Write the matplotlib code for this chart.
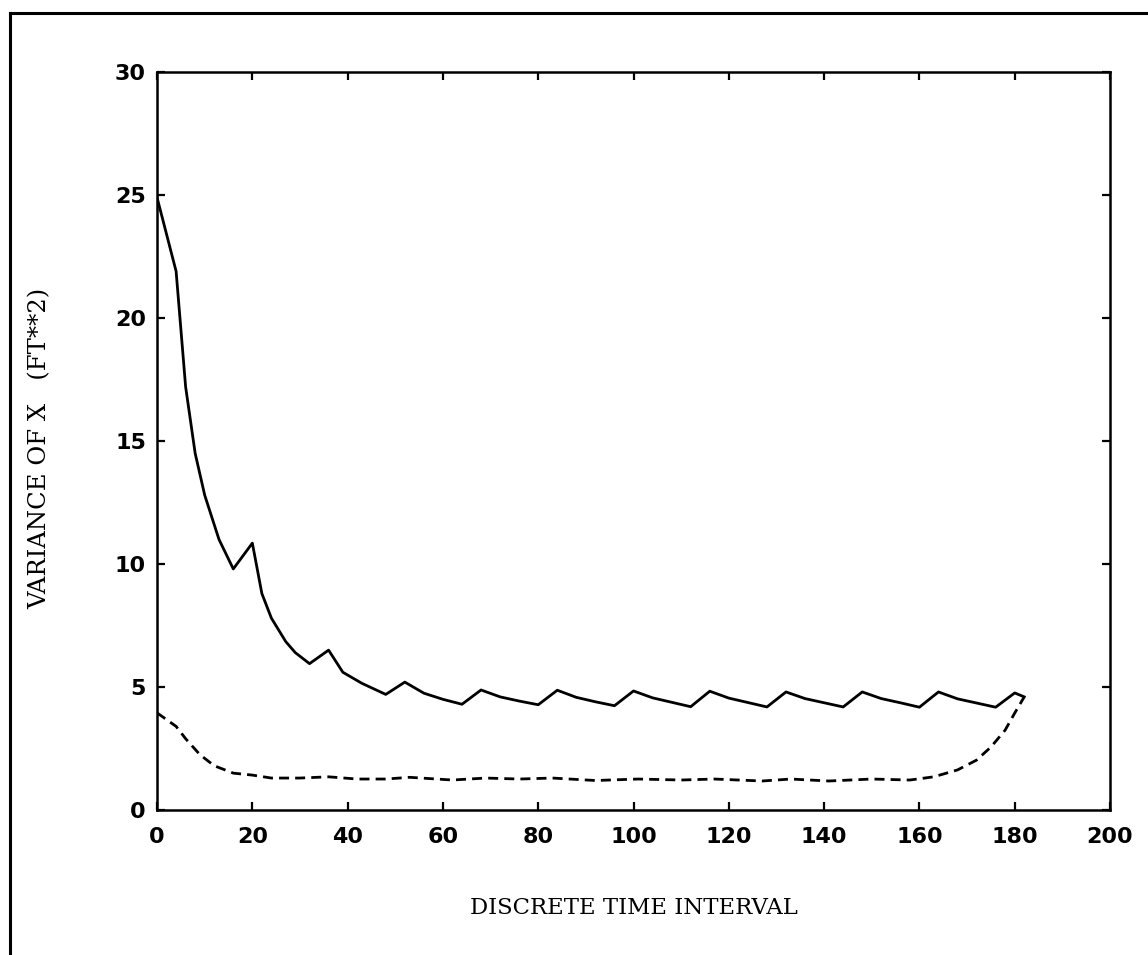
import matplotlib
matplotlib.use("Agg")
import matplotlib.pyplot as plt
from matplotlib.lines import Line2D

# solid curve (variance of x, first filter)
solid_x = [0, 4, 6, 8, 10, 13, 16, 20, 22, 24, 27, 29, 32, 36, 39, 43, 48,
           52, 56, 60, 64, 68, 72, 76, 80, 84, 88, 92, 96, 100, 104, 108, 112,
           116, 120, 124, 128, 132, 136, 140, 144, 148, 152, 156, 160, 164,
           168, 172, 176, 180, 182]
solid_y = [24.9, 21.9, 17.2, 14.5, 12.8, 11.0, 9.8, 10.85, 8.8, 7.8, 6.85,
           6.4, 5.95, 6.5, 5.6, 5.15, 4.7,
           5.2, 4.75, 4.5, 4.3, 4.88, 4.6, 4.43, 4.28, 4.87, 4.58, 4.4, 4.24,
           4.84, 4.56, 4.38, 4.2,
           4.83, 4.55, 4.37, 4.19, 4.8, 4.53, 4.36, 4.19, 4.8, 4.53, 4.36,
           4.18, 4.8,
           4.52, 4.35, 4.18, 4.76, 4.6]

# dashed curve
dashed_x = [0, 4, 6, 9, 12, 16, 20, 24, 30, 36, 42, 48, 53, 62, 69, 76, 83,
            92, 101, 110, 117, 127, 133, 141, 150, 158, 163, 168, 172, 175,
            178, 180, 182]
dashed_y = [3.95, 3.4, 2.9, 2.25, 1.8, 1.5, 1.42, 1.3, 1.3, 1.35, 1.26, 1.26,
            1.33, 1.22, 1.3, 1.26, 1.3, 1.2, 1.26, 1.22, 1.26, 1.18, 1.26,
            1.18, 1.26, 1.22, 1.35, 1.63, 2.03, 2.56, 3.25, 3.94, 4.6]

x_ticks = [0, 20, 40, 60, 80, 100, 120, 140, 160, 180, 200]
y_ticks = [0, 5, 10, 15, 20, 25, 30]

fig = plt.figure(figsize=(11.48, 9.55), dpi=100)
ax = fig.add_axes([0.1368, 0.1518, 0.8301, 0.7728])

ax.plot(solid_x, solid_y, color='black', lw=2.0)
ax.plot(dashed_x, dashed_y, color='black', lw=2.0, dashes=(3.6, 2.2))

ax.set_xlim(0, 200)
ax.set_ylim(0, 30)
ax.set_xticks(x_ticks)
ax.set_yticks(y_ticks)
ax.tick_params(direction='in', length=6, width=1.6, top=True, right=True,
               labelsize=16)
ax.tick_params(axis='x', pad=12)
ax.tick_params(axis='y', pad=8)
for lab in ax.get_xticklabels() + ax.get_yticklabels():
    lab.set_fontweight('bold')
for s in ax.spines.values():
    s.set_linewidth(1.8)

ax.set_xlabel('DISCRETE TIME INTERVAL', family='DejaVu Serif',
              fontsize=16.4, va='center')
ax.xaxis.set_label_coords(0.5, -0.133)
ax.set_ylabel('VARIANCE OF X   (FT**2)', family='DejaVu Serif',
              fontsize=17.5, va='center')
ax.yaxis.set_label_coords(-0.123, 0.49)

# outer page frame from the scan
fig.add_artist(Line2D([0.0087, 1.0], [0.9864, 0.9864], color='black', lw=2.2))
fig.add_artist(Line2D([0.0087, 0.0087], [0.0, 0.9864], color='black', lw=2.2))

fig.savefig('out.png', dpi=100)
